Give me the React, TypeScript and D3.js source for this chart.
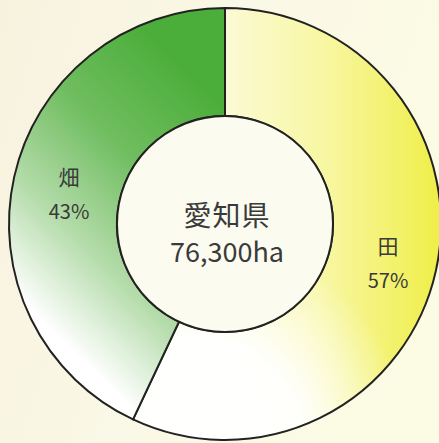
import React from 'react';
import * as d3 from 'd3';

// 愛知県の耕地面積 内訳
const categories = ['田', '畑'];
const shares = [57, 43];
const centerTitle = '愛知県';
const centerTotal = '76,300ha';

const width = 439;
const height = 443;
const cx = 225;
const cy = 224;
const outerR = 216;
const innerR = 108;

const fills = ['url(#gradTa)', 'url(#gradHata)'];
// white wash over the lower part of each slice
const washes = ['url(#washTa)', 'none'];
const labelPos = [
  { x: 388, y: 256 },
  { x: 69, y: 187 },
];

export default function App() {
  const pie = d3.pie<number>().sort(null).value(d => d);
  const arcs = pie(shares);
  const arc = d3.arc<d3.PieArcDatum<number>>().innerRadius(innerR).outerRadius(outerR);

  // gradients are in the translated group's coordinates (origin at the centre)
  return (
    <svg
      width={width}
      height={height}
      style={{ position: 'absolute', left: 0, top: 0 }}
      fontFamily="'Noto Sans CJK JP', 'Noto Sans', sans-serif"
    >
      <defs>
        <linearGradient id="bg" x1="0" y1="0" x2="1" y2="0.3">
          <stop offset="0" stopColor="#f7f2de" />
          <stop offset="0.5" stopColor="#faf8e6" />
          <stop offset="1" stopColor="#fcfbe4" />
        </linearGradient>
        <linearGradient id="gradTa" gradientUnits="userSpaceOnUse" x1={226 - cx} y1={0} x2={440 - cx} y2={0}>
          <stop offset="0" stopColor="#fbfad4" />
          <stop offset="0.45" stopColor="#f8f7a4" />
          <stop offset="1" stopColor="#efee48" />
        </linearGradient>
        <radialGradient id="washTa" gradientUnits="userSpaceOnUse" cx={200 - cx} cy={445 - cy} r={210}>
          <stop offset="0" stopColor="#ffffff" stopOpacity={1} />
          <stop offset="0.5" stopColor="#ffffff" stopOpacity={0.95} />
          <stop offset="1" stopColor="#ffffff" stopOpacity={0} />
        </radialGradient>
        <linearGradient
          id="gradHata"
          gradientUnits="userSpaceOnUse"
          x1={226 - cx}
          y1={110 - cy}
          x2={30 - cx}
          y2={310 - cy}
        >
          <stop offset="0" stopColor="#4cae3a" />
          <stop offset="0.35" stopColor="#6fbd5f" />
          <stop offset="0.7" stopColor="#b5dcab" />
          <stop offset="1" stopColor="#ffffff" />
        </linearGradient>
      </defs>
      <rect width={width} height={height} fill="url(#bg)" />
      <g transform={`translate(${cx},${cy})`}>
        {arcs.map((a, i) => (
          <g key={categories[i]}>
            <path d={arc(a) ?? ''} fill={fills[i]} />
            <path d={arc(a) ?? ''} fill={washes[i]} />
            <path d={arc(a) ?? ''} fill="none" stroke="#222" strokeWidth={2} />
          </g>
        ))}
        <circle r={innerR} fill="#fcfbef" stroke="#222" strokeWidth={2} />
      </g>
      <g fill="#3a3a3a" textAnchor="middle">
        <text x={cx + 2} y={226} fontSize={28} letterSpacing={1}>{centerTitle}</text>
        <text x={cx + 2} y={262} fontSize={27}>{centerTotal}</text>
        {categories.map((c, i) => (
          <g key={c}>
            <text x={labelPos[i].x} y={labelPos[i].y - 2} fontSize={21}>{c}</text>
            <text x={labelPos[i].x} y={labelPos[i].y + 32} fontSize={20}>{shares[i]}%</text>
          </g>
        ))}
      </g>
    </svg>
  );
}
